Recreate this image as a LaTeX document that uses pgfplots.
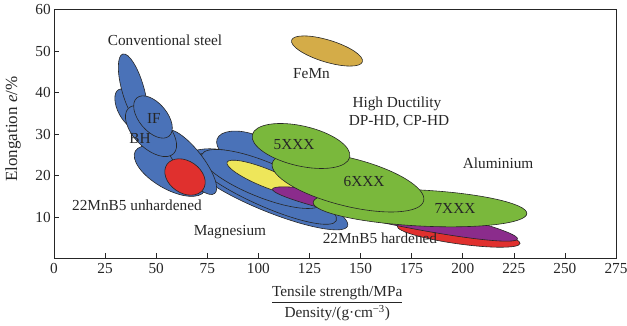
\documentclass[border=0pt]{standalone}
\usepackage{pgfplots}
\pgfplotsset{compat=1.18}
\usepackage{pgfplotstable}
\usepackage{fontspec}
\setmainfont{Liberation Serif}
\definecolor{cblue}{HTML}{4A72B8}
\definecolor{cgreen}{HTML}{7AB83C}
\definecolor{cred}{HTML}{E0302E}
\definecolor{cyellow}{HTML}{EEE65A}
\definecolor{cpurple}{HTML}{8B2C8C}
\definecolor{cgold}{HTML}{D4AC48}
\definecolor{cline}{HTML}{262626}

\pgfdeclareplotmark{ell}{%
  \pgfscope
  \pgftransformrotate{\ellT}%
  \pgfpathellipse{\pgfpointorigin}{\pgfpoint{\ellA pt}{0pt}}{\pgfpoint{0pt}{\ellB pt}}%
  \pgfusepathqfillstroke
  \endpgfscope}

\pgfplotsset{ellplot/.style={only marks, mark=ell,
  visualization depends on={\thisrow{a}\as\ellA},
  visualization depends on={\thisrow{b}\as\ellB},
  visualization depends on={\thisrow{t}\as\ellT},
  mark options={draw=cline, line width=0.6pt, fill=#1}}}

% x y (centre, data units), a b (semi-axes, pt), t (rotation, deg)
\pgfplotstableread{
x y a b t
95.91 25.90 35 17 -20
78.78 23.49 30 12 -5
106.0 15.3 83 17 -22
103.25 16.75 78 17 -24
101.78 19.16 65 18 -22
56.76 21.08 40 18 -30
66.55 23.25 40 13 -52
36.70 36.02 22 11 -62
38.66 40.70 37 11 -74
47.47 30.72 32 17 -45
48.44 34.10 25 14 -50
}\blueT
\pgfplotstableread{
x y a b t
64.10 19.64 22 16 -35
}\redA
\pgfplotstableread{
x y a b t
103.74 19.40 42 9 -22
}\yellowT
\pgfplotstableread{
x y a b t
198.0 5.7 62 9 -8
}\redB
\pgfplotstableread{
x y a b t
166.86 10.72 125 11 -11.5
}\purpleT
\pgfplotstableread{
x y a b t
179.10 12.17 107 18 -3
143.86 18.43 78 24 -14
120.87 27.11 50 20 -13
}\greenT
\pgfplotstableread{
x y a b t
133.59 50.0 37 11 -17
}\goldT

\begin{document}
\begin{tikzpicture}[font=\fontsize{15.3}{18}\selectfont]
\begin{axis}[
  set layers,
  scale only axis, width=562pt, height=249pt,
  xmin=0, xmax=275, ymin=0, ymax=60,
  xtick={0,25,...,275}, ytick={10,20,...,60},
  tick align=inside, xtick pos=left, ytick pos=left,
  major tick length=5pt,
  axis line style={cline, line width=0.8pt},
  tick style={cline, line width=0.6pt},
  /pgf/number format/assume math mode=true,
  tick label style={font=\fontsize{15.3}{18}\selectfont, text=cline, inner sep=1pt},
  yticklabel style={xshift=-2pt},
  xticklabel style={yshift=-4pt},
  ylabel={Elongation \textit{e}/\%},
  ylabel style={at={(axis description cs:-0.073,0.52)}, anchor=center, inner sep=0pt, text=cline, font=\fontsize{17}{20}\selectfont},
  xlabel={\begin{tabular}{@{}c@{}}Tensile strength/MPa\\[1pt]\hline\rule{0pt}{15pt}Density/(g·cm\textsuperscript{\char"2212 3})\end{tabular}},
  xlabel style={at={(axis description cs:0.504,-0.18)}, anchor=center, inner sep=0pt, text=cline},
]
\addplot[ellplot=cblue] table {\blueT};
\addplot[ellplot=cred] table {\redA};
\addplot[ellplot=cyellow] table {\yellowT};
\addplot[ellplot=cred] table {\redB};
\addplot[ellplot=cpurple] table {\purpleT};
\addplot[ellplot=cgreen] table {\greenT};
\addplot[ellplot=cgold] table {\goldT};

\begin{pgfonlayer}{axis foreground}
\begin{scope}[every node/.style={text=cline, inner sep=0pt}]
\node at (axis cs:54.3,52.65) {Conventional steel};
\node at (axis cs:126.0,44.6) {FeMn};
\node at (axis cs:167.8,37.2) {High Ductility};
\node at (axis cs:168.8,32.9) {DP-HD, CP-HD};
\node at (axis cs:217.3,23.0) {Aluminium};
\node at (axis cs:117.5,27.35) {5XXX};
\node at (axis cs:151.7,18.6) {6XXX};
\node at (axis cs:196.2,12.1) {7XXX};
\node at (axis cs:48.9,33.85) {IF};
\node at (axis cs:42.1,28.8) {BH};
\node at (axis cs:40.6,12.9) {22MnB5 unhardened};
\node at (axis cs:86.1,6.3) {Magnesium};
\node at (axis cs:159.5,4.9) {22MnB5 hardened};
\end{scope}
\end{pgfonlayer}
\end{axis}
\pgfresetboundingbox
\path ([shift={(-54pt,-67.5pt)}]current axis.south west) rectangle ([shift={(11pt,9.5pt)}]current axis.north east);
\end{tikzpicture}
\end{document}
